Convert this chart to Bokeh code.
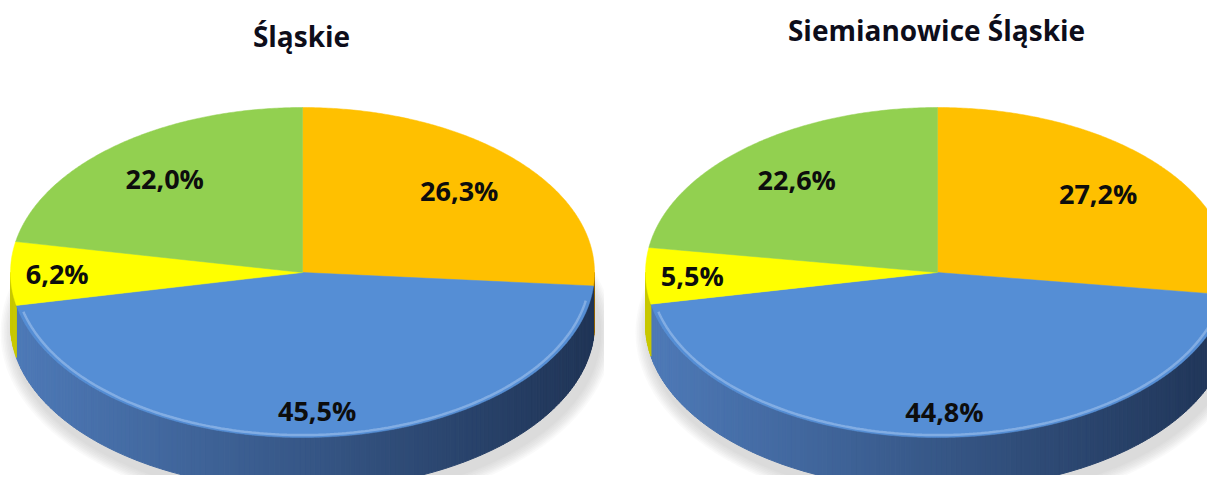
import numpy as np
from bokeh.plotting import figure
from bokeh.layouts import row
from bokeh.models import Range1d
from bokeh.core.properties import value
from bokeh.embed import file_html
from bokeh.resources import INLINE

# ---- data ----
categories = ["Grupa 1", "Grupa 2", "Grupa 3", "Grupa 4"]
titles = ["Śląskie", "Siemianowice Śląskie"]
values_slaskie = [26.3, 45.5, 6.2, 22.0]
values_siemianowice = [27.2, 44.8, 5.5, 22.6]

# ---- style ----
top_colors = ["#FFC000", "#558ED5", "#FFFF00", "#92D050"]
side_light = [(214, 150, 0), (78, 122, 184), (200, 200, 0), (110, 160, 55)]
side_dark = [(150, 100, 0), (31, 52, 86), (140, 140, 0), (70, 110, 35)]
label_radius = [0.73, 0.84, 0.84, 0.74]

H = 475
RX, RY, DEPTH = 292, 165, 52
FONT = "Open Sans"


def hexcol(c):
    return "#%02x%02x%02x" % tuple(int(round(v)) for v in c)


def make_pie(title, vals, width, cx, cy, title_x, title_y):
    p = figure(width=width, height=H, x_range=Range1d(0, width), y_range=Range1d(H, 0),
               output_backend="svg", toolbar_location=None, min_border=0)
    p.axis.visible = False
    p.grid.visible = False
    p.outline_line_color = None
    p.background_fill_color = "white"
    p.border_fill_color = "white"

    def pt(th, dy=0.0, s=1.0):
        r = np.radians(th)
        return cx + RX * s * np.sin(r), cy - RY * s * np.cos(r) + dy

    # soft shadow
    for k in range(8):
        grow = 14 - k * 1.6
        p.ellipse(x=[cx + 4], y=[cy + DEPTH + 8], width=[2 * (RX + grow)], height=[2 * (RY + grow)],
                  fill_color="#9a9a9a", fill_alpha=0.05, line_color=None)

    total = sum(vals)
    bounds = np.concatenate([[0], np.cumsum(vals)]) / total * 360.0

    # side walls (front half only)
    xs_side, ys_side, c_side = [], [], []
    for i in range(len(vals)):
        a, b = max(bounds[i], 90.0), min(bounds[i + 1], 270.0)
        if b <= a:
            continue
        steps = np.linspace(a, b, max(2, int((b - a) / 1.0) + 2))
        for t0, t1 in zip(steps[:-1], steps[1:]):
            x0, y0 = pt(t0)
            x1, y1 = pt(t1)
            tm = np.radians((t0 + t1) / 2)
            f = (1 + np.sin(tm)) / 2
            col = hexcol(np.array(side_light[i]) * (1 - f) + np.array(side_dark[i]) * f)
            xs_side.append([x0, x1, x1, x0])
            ys_side.append([y0, y1, y1 + DEPTH, y0 + DEPTH])
            c_side.append(col)
    p.patches(xs_side, ys_side, fill_color=c_side, line_color=c_side, line_width=1)

    # top face wedges
    xs_top, ys_top = [], []
    for i in range(len(vals)):
        a, b = bounds[i], bounds[i + 1]
        th = np.linspace(a, b, max(3, int((b - a) * 2)))
        x, y = pt(th)
        xs_top.append([cx] + list(x))
        ys_top.append([cy] + list(y))
    p.patches(xs_top, ys_top, fill_color=top_colors, line_color=top_colors, line_width=0.5)

    # light rim near front edge of top face
    th = np.linspace(100, 256, 200)
    x, y = pt(th, s=0.985)
    p.line(x, y, line_color="#a8c6ef", line_width=2.5, line_alpha=0.55)

    # labels
    mids = (bounds[:-1] + bounds[1:]) / 2
    lx, ly, lt = [], [], []
    for i, m in enumerate(mids):
        x, y = pt(m, s=label_radius[i])
        lx.append(x)
        ly.append(y)
        lt.append(("%.1f%%" % vals[i]).replace(".", ","))
    p.text(x=lx, y=ly, text=lt, text_font=value(FONT), text_font_style="bold",
           text_font_size="27px", text_color="#0d0d0d", text_align="center",
           text_baseline="middle")

    # title
    p.text(x=[title_x], y=[title_y], text=[title], text_font=value(FONT), text_font_style="bold",
           text_font_size="28px", text_color="#0d0d1a", text_align="center",
           text_baseline="middle")
    return p


p1 = make_pie(titles[0], values_slaskie, 604, 302, 272, 301, 35)
p2 = make_pie(titles[1], values_siemianowice, 603, 333, 272, 332, 29)
layout = row(p1, p2)

open("out.html", "w").write(file_html(layout, INLINE))
